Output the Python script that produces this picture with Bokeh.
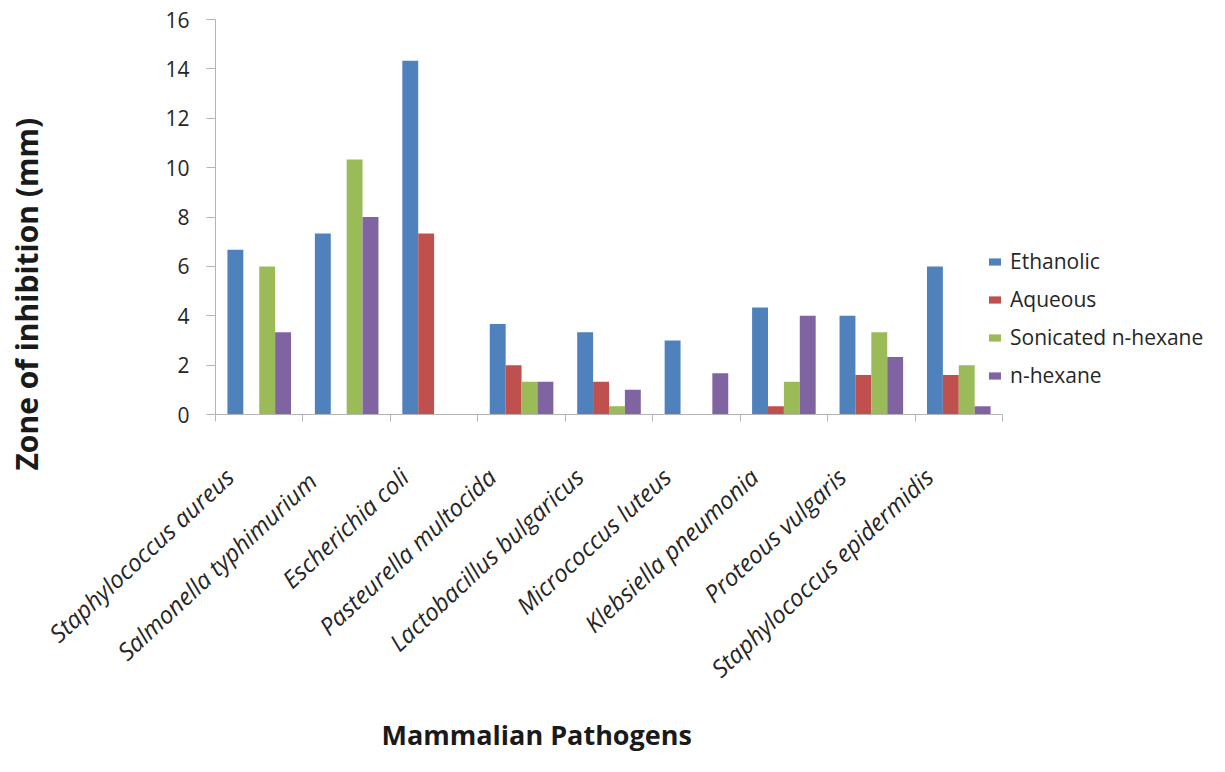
from bokeh.plotting import figure
from bokeh.models import (Range1d, FixedTicker, LinearAxis, Legend, LegendItem, Title)
from bokeh.embed import file_html
from bokeh.resources import INLINE

# ---- data ----
pathogens = ["Staphylococcus aureus", "Salmonella  typhimurium", "Escherichia coli",
             "Pasteurella multocida", "Lactobacillus bulgaricus", "Micrococcus luteus",
             "Klebsiella pneumonia", "Proteous vulgaris", "Staphylococcus epidermidis"]
series_names = ["Ethanolic", "Aqueous", "Sonicated n-hexane", "n-hexane"]
ethanolic = [6.67, 7.33, 14.33, 3.67, 3.33, 3.0, 4.33, 4.0, 6.0]
aqueous = [0.0, 0.0, 7.33, 2.0, 1.33, 0.0, 0.33, 1.6, 1.6]
sonicated = [6.0, 10.33, 0.0, 1.33, 0.33, 0.0, 1.33, 3.33, 2.0]
nhexane = [3.33, 8.0, 0.0, 1.33, 1.0, 1.67, 4.0, 2.33, 0.33]
y_ticks = [0, 2, 4, 6, 8, 10, 12, 14, 16]
colors = ["#4F81BD", "#C0504D", "#9BBB59", "#8064A2"]

series = [ethanolic, aqueous, sonicated, nhexane]
n = len(pathogens)
bar_w = 1 / 5.5
centers = [i + 0.5 for i in range(n)]

W, H = 1225, 772
LEFT, TOP, RIGHT_AX, BOTTOM = 215, 19, 1002, 414
cat_px = (RIGHT_AX - LEFT) / n
x_end = (W - LEFT) / cat_px

FONT = "Open Sans"
AXIS_GRAY = "#b4b4b4"
TEXT = "#262626"

p = figure(width=W, height=H, output_backend="svg", toolbar_location=None,
           x_range=Range1d(0, x_end), y_range=Range1d(0, 16),
           min_border_left=LEFT, min_border_right=0, min_border_top=TOP,
           min_border_bottom=H - BOTTOM, x_axis_type=None, y_axis_type=None)
p.outline_line_color = None
p.grid.visible = False

renderers = []
for j, (vals, c) in enumerate(zip(series, colors)):
    xs = [ctr + (j - 1.5) * bar_w for ctr in centers]
    r = p.vbar(x=xs, top=vals, bottom=0, width=bar_w, fill_color=c, line_color=None)
    renderers.append(r)

# y axis (a blank, tiny axis label is used only as a spacer)
yax = LinearAxis(ticker=FixedTicker(ticks=y_ticks))
yax.axis_line_color = AXIS_GRAY
yax.major_tick_line_color = AXIS_GRAY
yax.major_tick_out = 9
yax.major_tick_in = 0
yax.minor_tick_line_color = None
yax.major_label_standoff = 17
yax.major_label_text_font = FONT
yax.major_label_text_font_size = "21px"
yax.major_label_text_color = TEXT
yax.axis_label = " "
yax.axis_label_text_font_size = "1px"
yax.axis_label_standoff = 112
p.add_layout(yax, "left")

# x axis: boundary ticks as minor ticks, names as (invisible) major ticks
label_pos = [c - 0.34 for c in centers]
xax = LinearAxis(ticker=FixedTicker(ticks=label_pos, minor_ticks=list(range(n + 1))),
                 bounds=(0, n))
xax.axis_line_color = AXIS_GRAY
xax.major_tick_line_color = None
xax.minor_tick_line_color = AXIS_GRAY
xax.minor_tick_out = 7
xax.minor_tick_in = 0
xax.major_label_overrides = {lp: name for lp, name in zip(label_pos, pathogens)}
xax.major_label_orientation = 0.75
xax.major_label_standoff = 51
xax.major_label_text_font = FONT
xax.major_label_text_font_style = "italic"
xax.major_label_text_font_size = "24px"
xax.major_label_text_color = TEXT
xax.axis_label = " "
xax.axis_label_text_font_size = "1px"
xax.axis_label_standoff = 10
p.add_layout(xax, "below")

# axis titles
p.add_layout(Title(text="Mammalian Pathogens", align="left", offset=166, standoff=0,
                   text_font=FONT, text_font_style="bold", text_font_size="27px",
                   text_color="#1a1a1a"), "below")
p.add_layout(Title(text="Zone of inhibition (mm)", align="left", offset=-56, standoff=0,
                   text_font=FONT, text_font_style="bold", text_font_size="30px",
                   text_color="#1a1a1a"), "left")

legend = Legend(items=[LegendItem(label=nm, renderers=[r]) for nm, r in zip(series_names, renderers)],
                location=(772, 25))
legend.background_fill_alpha = 0
legend.border_line_color = None
legend.glyph_width = 15
legend.glyph_height = 9
legend.label_standoff = 8
legend.label_text_font = FONT
legend.label_text_font_size = "21px"
legend.label_text_color = TEXT
legend.label_height = 20
legend.spacing = 10
legend.padding = 10
p.add_layout(legend, "center")

open("out.html", "w").write(file_html(p, INLINE))
